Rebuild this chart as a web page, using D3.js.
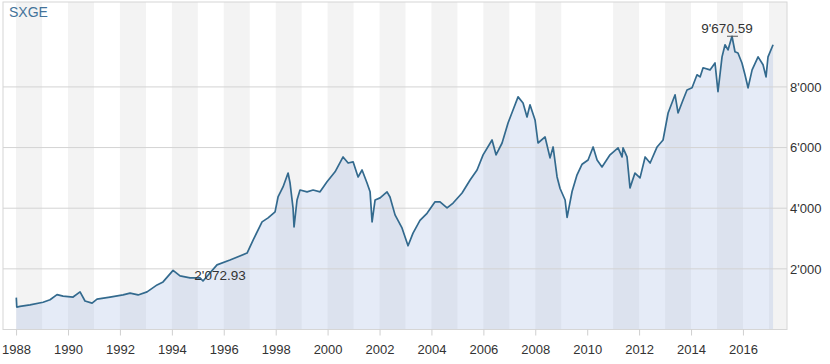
<!DOCTYPE html>
<html>
<head>
<meta charset="utf-8">
<script src="https://cdn.jsdelivr.net/npm/d3@7"></script>
<style>
  html, body { margin: 0; padding: 0; background: #fff; }
  svg { display: block; font-family: "Liberation Sans", Arial, sans-serif; }
</style>
</head>
<body>
<svg id="chart" width="830" height="364"></svg>
<script>
// ---- data ----
const title = "SXGE";
const dates = [
  "1988-01-04","1988-01-11","1988-02-26","1988-07-15","1989-01-15","1989-04-23","1989-07-30","1989-10-23",
  "1990-03-13","1990-06-19","1990-08-28","1990-12-05","1991-02-13","1991-08-15","1992-02-14","1992-05-23",
  "1992-09-13","1993-01-17","1993-06-07","1993-08-30","1994-01-18","1994-04-26","1994-09-14","1995-02-01",
  "1995-03-15","1995-09-28","1996-03-29","1996-11-24","1997-02-17","1997-06-23","1997-09-16","1997-12-23",
  "1998-02-03","1998-04-14","1998-06-24","1998-07-22","1998-09-02","1998-09-16","1998-10-28","1998-12-09",
  "1999-03-18","1999-06-11","1999-09-17","1999-12-24","2000-04-15","2000-08-06","2000-10-16","2000-12-25",
  "2001-03-05","2001-04-30","2001-07-09","2001-08-21","2001-09-18","2001-10-30","2002-01-09","2002-04-16",
  "2002-05-28","2002-08-07","2002-11-13","2003-02-06","2003-04-17","2003-07-24","2003-10-31","2004-02-21",
  "2004-05-01","2004-08-08","2004-11-01","2005-03-07","2005-06-28","2005-10-04","2005-12-28","2006-05-03",
  "2006-06-28","2006-09-21","2006-12-14","2007-02-22","2007-05-04","2007-07-13","2007-09-07","2007-10-19",
  "2007-12-29","2008-02-09","2008-05-18","2008-07-27","2008-09-08","2008-11-03","2008-12-15","2009-02-24",
  "2009-03-24","2009-06-02","2009-08-11","2009-10-21","2010-01-13","2010-03-25","2010-05-20","2010-07-28",
  "2010-11-18","2011-03-11","2011-05-06","2011-05-20","2011-07-15","2011-08-26","2011-11-04","2012-01-14",
  "2012-03-26","2012-06-04","2012-09-10","2012-12-03","2013-02-12","2013-05-21","2013-07-02","2013-09-10",
  "2013-11-05","2014-01-15","2014-03-26","2014-05-08","2014-06-19","2014-09-25","2014-12-04","2015-01-15",
  "2015-03-13","2015-04-24","2015-06-05","2015-07-31","2015-09-11","2015-10-23","2015-12-18","2016-01-30",
  "2016-03-13","2016-05-09","2016-08-01","2016-10-10","2016-11-21","2016-12-19","2017-02-28"
];
const values = [
  1050, 740, 760, 810, 900, 980, 1150, 1100,
  1070, 1240, 940, 870, 1000, 1070, 1140, 1200,
  1140, 1240, 1470, 1570, 1950, 1770, 1700, 1700,
  1600, 2130, 2290, 2520, 2950, 3550, 3680, 3880,
  4370, 4700, 5160, 4830, 4000, 3380, 4270, 4600,
  4540, 4600, 4540, 4870, 5200, 5690, 5490, 5530,
  5030, 5260, 4830, 4540, 3550, 4270, 4340, 4540,
  4370, 3780, 3350, 2760, 3180, 3600, 3830, 4210,
  4210, 4010, 4170, 4500, 4930, 5260, 5760, 6250,
  5760, 6150, 6810, 7240, 7670, 7470, 7010, 7410,
  6910, 6150, 6350, 5660, 6020, 5030, 4650, 4270,
  3700, 4550, 5100, 5450, 5590, 6020, 5590, 5360,
  5760, 5990, 5690, 5990, 5690, 4670, 5160, 5000,
  5690, 5490, 6020, 6250, 7140, 7740, 7140, 7570,
  7900, 7970, 8400, 8330, 8630, 8560, 8790, 7840,
  8990, 9390, 9220, 9670.59, 9160, 9120, 8790, 8400,
  7970, 8560, 8990, 8730, 8330, 8990, 9390
];
const yTicks = [2000, 4000, 6000, 8000];
const xTickYears = [1988,1990,1992,1994,1996,1998,2000,2002,2004,2006,2008,2010,2012,2014,2016];
const bandYears = [1988,1990,1992,1994,1996,1998,2000,2002,2004,2006,2008,2011,2013,2015,2017];
const annotations = [
  { date: "1995-11-10", value: 2072.93, label: "2'072.93" }
];

// ---- setup ----
const parse = d3.timeParse("%Y-%m-%d");
const data = dates.map((d, i) => ({ date: parse(d), value: values[i] }));

const svg = d3.select("#chart");
const L = 3, R = 787, T = 2, B = 329.5;

const x = d3.scaleTime()
  .domain([parse("1987-07-01"), parse("2017-09-12")])
  .range([L, R]);
const y = d3.scaleLinear().domain([0, 10800]).range([B, T]);

const fmt = v => d3.format(",")(v).replace(/,/g, "'");
const fmt2 = v => d3.format(",.2f")(v).replace(/,/g, "'");

// alternating yearly bands
svg.append("g").selectAll("rect").data(bandYears).join("rect")
  .attr("x", d => x(new Date(d, 0, 1)))
  .attr("y", T)
  .attr("width", d => Math.min(R, x(new Date(d + 1, 0, 1))) - x(new Date(d, 0, 1)))
  .attr("height", B - T)
  .attr("fill", "#f3f3f3");

// area
const area = d3.area().x(d => x(d.date)).y0(y(0)).y1(d => y(d.value));
svg.append("path").datum(data)
  .attr("d", area)
  .attr("fill", "rgb(170,188,228)")
  .attr("fill-opacity", 0.3);

// grid lines
svg.append("g").selectAll("line").data(yTicks).join("line")
  .attr("x1", L).attr("x2", R)
  .attr("y1", d => y(d)).attr("y2", d => y(d))
  .attr("stroke", "#d3d3d3").attr("stroke-width", 1);

// frame
svg.append("rect")
  .attr("x", L).attr("y", T).attr("width", R - L).attr("height", B - T)
  .attr("fill", "none").attr("stroke", "#d6d6d6").attr("stroke-width", 1);

// x axis
const xAxis = d3.axisBottom(x)
  .tickValues(xTickYears.map(yr => new Date(yr, 0, 1)))
  .tickFormat(d3.timeFormat("%Y"))
  .tickSize(6).tickPadding(9);
const gx = svg.append("g").attr("transform", `translate(0,${B})`).call(xAxis);
gx.select(".domain").remove();
gx.selectAll(".tick line").attr("stroke", "#cfcfcf");
gx.selectAll(".tick text").attr("fill", "#333").style("font-size", "13px")
  .style("font-family", "'Liberation Sans', Arial, sans-serif");

// y axis (right)
const yAxis = d3.axisRight(y).tickValues(yTicks).tickFormat(fmt).tickSize(0).tickPadding(3);
const gy = svg.append("g").attr("transform", `translate(${R},0)`).call(yAxis);
gy.select(".domain").remove();
gy.selectAll(".tick text").attr("fill", "#333").style("font-size", "13px")
  .style("font-family", "'Liberation Sans', Arial, sans-serif");

// line
const line = d3.line().x(d => x(d.date)).y(d => y(d.value));
svg.append("path").datum(data)
  .attr("d", line)
  .attr("fill", "none")
  .attr("stroke", "#336a8e")
  .attr("stroke-width", 1.7)
  .attr("stroke-linejoin", "round");

// max annotation
const maxD = data.reduce((a, b) => (b.value > a.value ? b : a));
svg.append("line")
  .attr("x1", x(maxD.date) - 5).attr("x2", x(maxD.date) + 6)
  .attr("y1", y(maxD.value)).attr("y2", y(maxD.value))
  .attr("stroke", "#555").attr("stroke-width", 1);
svg.append("text")
  .attr("x", x(maxD.date) - 5).attr("y", y(maxD.value) - 3.5)
  .attr("text-anchor", "middle").attr("fill", "#333").style("font-size", "13.5px")
  .text(fmt2(maxD.value));

// other annotation
svg.append("g").selectAll("text").data(annotations).join("text")
  .attr("x", d => x(parse(d.date)))
  .attr("y", d => y(d.value) + 13)
  .attr("text-anchor", "middle").attr("fill", "#333").style("font-size", "13.5px")
  .text(d => d.label);

// title
svg.append("text").attr("x", 9).attr("y", 17)
  .attr("fill", "#44739a").style("font-size", "14px").text(title);
</script>
</body>
</html>
